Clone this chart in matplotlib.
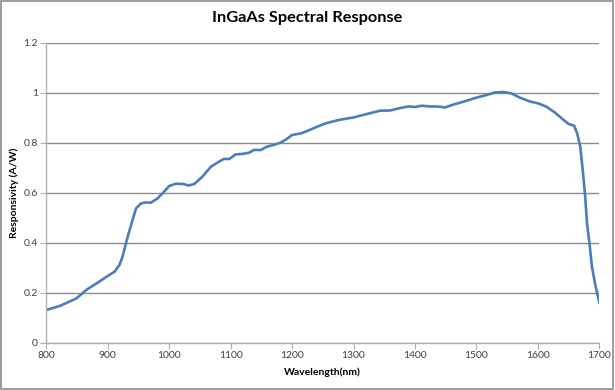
import matplotlib
matplotlib.use("Agg")
import matplotlib.pyplot as plt
from matplotlib.patches import Rectangle

# Data
wavelength = [800, 822, 849, 865, 886, 900, 911, 919, 924, 931, 938, 946, 954, 962, 970,
              981, 989, 1000, 1011, 1022, 1032, 1041, 1054, 1068, 1081, 1089, 1098, 1108,
              1119, 1130, 1138, 1149, 1159, 1170, 1181, 1189, 1200, 1214, 1222, 1238, 1254,
              1276, 1300, 1322, 1343, 1360, 1373, 1389, 1400, 1411, 1425, 1436, 1449, 1463,
              1479, 1501, 1517, 1530, 1544, 1557, 1571, 1587, 1601, 1614, 1628, 1641, 1650,
              1659, 1664, 1669, 1673, 1677, 1680, 1684, 1688, 1693, 1700]
responsivity = [0.131, 0.147, 0.177, 0.211, 0.244, 0.267, 0.284, 0.311, 0.344, 0.411, 0.471,
                0.537, 0.557, 0.561, 0.560, 0.577, 0.597, 0.627, 0.636, 0.635, 0.629, 0.635,
                0.664, 0.704, 0.724, 0.735, 0.735, 0.753, 0.755, 0.760, 0.771, 0.771, 0.784,
                0.791, 0.800, 0.811, 0.831, 0.837, 0.844, 0.861, 0.877, 0.891, 0.901, 0.915,
                0.928, 0.929, 0.937, 0.945, 0.943, 0.948, 0.945, 0.945, 0.941, 0.953, 0.964,
                0.981, 0.991, 1.001, 1.003, 0.997, 0.980, 0.965, 0.957, 0.944, 0.920, 0.893,
                0.875, 0.868, 0.837, 0.784, 0.691, 0.584, 0.477, 0.397, 0.304, 0.237, 0.160]

x_ticks = list(range(800, 1701, 100))
y_ticks = [0, 0.2, 0.4, 0.6, 0.8, 1.0, 1.2]
y_tick_labels = ["0", "0.2", "0.4", "0.6", "0.8", "1", "1.2"]

plt.rcParams['font.family'] = ['Lato', 'DejaVu Sans']

fig = plt.figure(figsize=(6.15, 3.9), dpi=100)
ax = fig.add_axes([0.0753, 0.1213, 0.8992, 0.7692])

ax.plot(wavelength, responsivity, color='#4a7ebb', linewidth=1.9, solid_joinstyle='round')

ax.set_xlim(800, 1700)
ax.set_ylim(0, 1.2)
ax.set_xticks(x_ticks)
ax.set_yticks(y_ticks)
ax.set_yticklabels(y_tick_labels)
ax.yaxis.grid(True, color='#8c8c8c', linewidth=1.0)
ax.set_axisbelow(True)

for side in ['top', 'right']:
    ax.spines[side].set_visible(False)
for side in ['left', 'bottom']:
    ax.spines[side].set_color('#b0b0b0')
    ax.spines[side].set_linewidth(1.0)
ax.tick_params(axis='both', direction='out', length=4, color='#b0b0b0',
               labelsize=7.5, labelcolor='#404040', pad=2)

ax.set_xlabel('Wavelength(nm)', fontsize=7.5, fontweight='bold', labelpad=5)
ax.set_ylabel('Responsivity (A/W)', fontsize=7.5, fontweight='bold')
ax.yaxis.set_label_coords(-0.05, 0.5)
fig.text(0.5, 0.953, 'InGaAs Spectral Response', ha='center', va='center',
         fontsize=11.8, fontweight='bold')

# grey frame around the chart like the spreadsheet export
fig.patches.append(Rectangle((0.002, 0.003), 0.995, 0.994, transform=fig.transFigure,
                             fill=False, edgecolor='#8c8c8c', linewidth=1.2))

fig.savefig('out.png', dpi=100)
